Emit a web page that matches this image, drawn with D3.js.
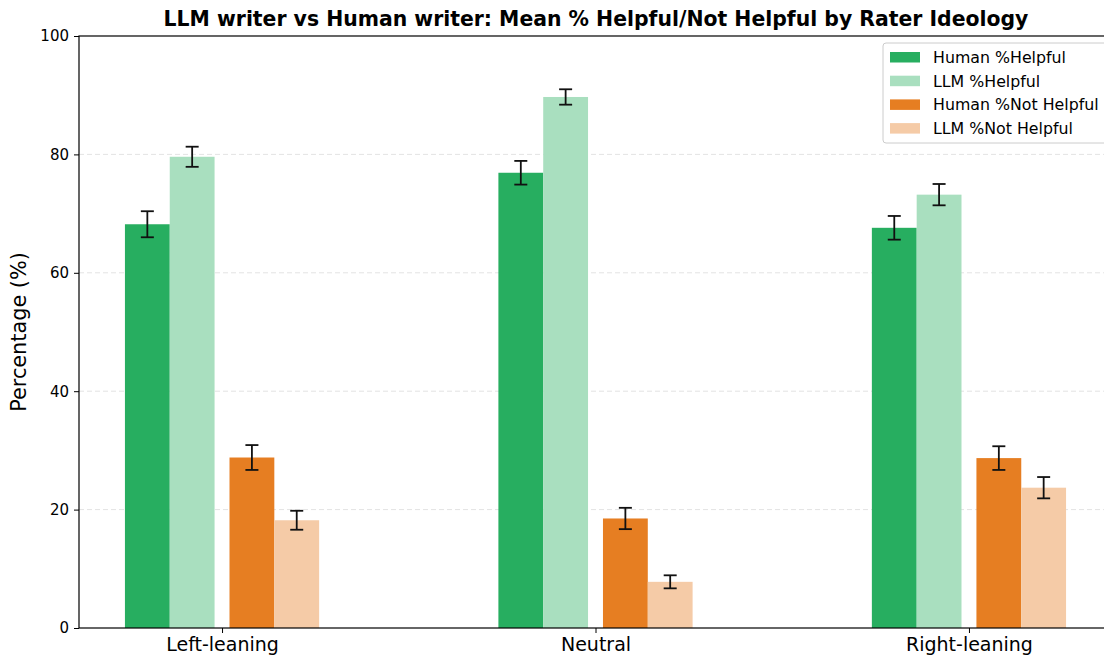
<!DOCTYPE html>
<html><head><meta charset="utf-8">
<script src="https://cdn.jsdelivr.net/npm/d3@7"></script>
<style>body{margin:0;background:#fff}svg{display:block}text{font-family:"DejaVu Sans",sans-serif}</style>
</head><body><svg id="c" width="1104" height="660"></svg>
<script>
const categories = ["Left-leaning", "Neutral", "Right-leaning"];
const seriesNames = ["Human %Helpful", "LLM %Helpful", "Human %Not Helpful", "LLM %Not Helpful"];
const humanHelpful = [68.2, 76.9, 67.6];
const llmHelpful = [79.6, 89.7, 73.2];
const humanNotHelpful = [28.8, 18.5, 28.7];
const llmNotHelpful = [18.2, 7.8, 23.7];
const errHumanHelpful = [2.2, 2.0, 2.0];
const errLlmHelpful = [1.7, 1.3, 1.8];
const errHumanNotHelpful = [2.1, 1.8, 2.0];
const errLlmNotHelpful = [1.6, 1.1, 1.8];
const yTicks = [0, 20, 40, 60, 80, 100];

const colors = ["#27ae60", "#a9dfbf", "#e67e22", "#f5cba7"];
const offsets = [-0.2, -0.08, 0.08, 0.2];
const barW = 0.12;
const values = [humanHelpful, llmHelpful, humanNotHelpful, llmNotHelpful];
const errs = [errHumanHelpful, errLlmHelpful, errHumanNotHelpful, errLlmNotHelpful];

const svg = d3.select("#c");
const L = 79, R = 1112, T = 36, B = 628;
const x = d3.scaleLinear().domain([-0.383, 2.383]).range([L, R]);
const y = d3.scaleLinear().domain([0, 100]).range([B, T]);

// grid
svg.append("g").selectAll("line").data(yTicks.filter(t => t > 0 && t < 100)).join("line")
  .attr("x1", L).attr("x2", R).attr("y1", d => y(d)).attr("y2", d => y(d))
  .attr("stroke", "#e3e3e3").attr("stroke-width", 1).attr("stroke-dasharray", "5,3");

// bars
const data = [];
values.forEach((vals, s) => vals.forEach((v, i) => data.push({s, i, v, e: errs[s][i]})));
svg.append("g").selectAll("rect").data(data).join("rect")
  .attr("x", d => x(d.i + offsets[d.s] - barW / 2))
  .attr("width", d => x(d.i + offsets[d.s] + barW / 2) - x(d.i + offsets[d.s] - barW / 2))
  .attr("y", d => y(d.v)).attr("height", d => y(0) - y(d.v))
  .attr("fill", d => colors[d.s]);

// error bars
const eg = svg.append("g").attr("stroke", "#111").attr("stroke-width", 1.8);
data.forEach(d => {
  const cx = x(d.i + offsets[d.s]);
  eg.append("line").attr("x1", cx).attr("x2", cx).attr("y1", y(d.v - d.e)).attr("y2", y(d.v + d.e));
  [d.v - d.e, d.v + d.e].forEach(v => eg.append("line").attr("x1", cx - 6.5).attr("x2", cx + 6.5).attr("y1", y(v)).attr("y2", y(v)));
});

// axes
const ya = svg.append("g").attr("transform", `translate(${L},0)`)
  .call(d3.axisLeft(y).tickValues(yTicks).tickSize(5).tickPadding(5));
ya.select(".domain").remove();
ya.selectAll("text").attr("font-size", 15).attr("fill", "#000").style("font-family", "DejaVu Sans");
ya.selectAll("line").attr("stroke", "#000");
const xa = svg.append("g").attr("transform", `translate(0,${B})`)
  .call(d3.axisBottom(x).tickValues([0, 1, 2]).tickFormat(i => categories[i]).tickSize(5).tickPadding(5));
xa.select(".domain").remove();
xa.selectAll("text").attr("font-size", 19).attr("fill", "#000").style("font-family", "DejaVu Sans");
xa.selectAll("line").attr("stroke", "#000");

svg.append("rect").attr("x", L).attr("y", T).attr("width", R - L).attr("height", B - T)
  .attr("fill", "none").attr("stroke", "#000").attr("stroke-width", 1.2);

svg.append("text").attr("x", 596).attr("y", 26).attr("text-anchor", "middle")
  .attr("font-size", 20.4).attr("font-weight", "bold").text("LLM writer vs Human writer: Mean % Helpful/Not Helpful by Rater Ideology");
svg.append("text").attr("transform", `translate(26,${(T + B) / 2}) rotate(-90)`).attr("text-anchor", "middle")
  .attr("font-size", 20.8).text("Percentage (%)");

// legend
const lg = svg.append("g").attr("transform", "translate(883,43)");
lg.append("rect").attr("width", 226).attr("height", 100).attr("rx", 3).attr("fill", "#fff").attr("fill-opacity", 0.8)
  .attr("stroke", "#ccc");
seriesNames.forEach((n, k) => {
  const g = lg.append("g").attr("transform", `translate(0,${14 + k * 23.7})`);
  g.append("rect").attr("x", 7).attr("y", -5).attr("width", 30).attr("height", 10.5).attr("fill", colors[k]);
  g.append("text").attr("x", 50).attr("y", 5.8).attr("font-size", 15.8).text(n);
});
</script></body></html>
